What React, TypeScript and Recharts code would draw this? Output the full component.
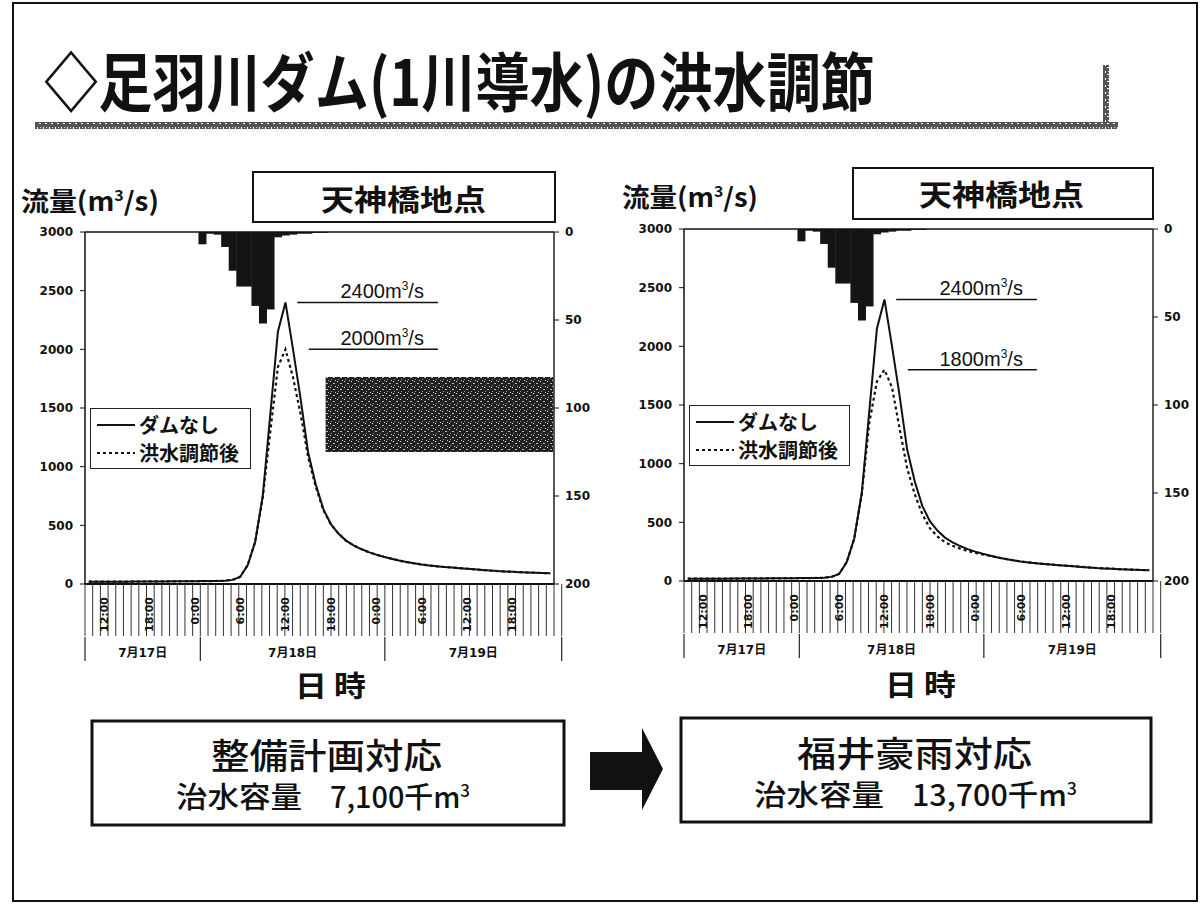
import React from 'react';
import {
  ComposedChart, Bar, Line, XAxis, YAxis, ReferenceLine, ReferenceArea, Legend,
} from 'recharts';

const CJK = '"Noto Sans CJK JP", "Noto Sans CJK SC", sans-serif';
const NUM = '"DejaVu Sans", "Noto Sans CJK JP", sans-serif';
const LATIN = '"Liberation Sans", Arial, sans-serif';

// hourly slots 7/17 10:00 – 7/19 23:00 (0:00 closes the previous day)
const days = ['7月17日', '7月18日', '7月19日'];
const dayFirstHour = [10, 1, 1];
const dayLastHour = [24, 24, 23];
const hourTickLabels: Record<number, string> = { 6: '6:00', 12: '12:00', 18: '18:00', 24: '0:00' };

const flowTicks = [0, 500, 1000, 1500, 2000, 2500, 3000];
const rainTicks = [0, 50, 100, 150, 200];

// 時間雨量 (mm)
const rainfall = [
  0, 0, 0, 0, 0, 0, 0, 0, 0, 0,
  0, 0, 0, 0, 0, 7, 1, 1.5, 8.5, 22,
  31, 31, 42, 52, 44, 3, 2, 1.5, 1, 1,
  0.5, 0.5, 0, 0, 0, 0, 0, 0, 0, 0,
  0, 0, 0, 0, 0, 0, 0, 0, 0, 0,
  0, 0, 0, 0, 0, 0, 0, 0, 0, 0,
  0, 0,
];

// 流量 m3/s — ダムなし
const flowNoDam = [
  20, 20, 20, 20, 20, 20, 21, 21, 22, 22,
  22, 23, 23, 24, 24, 25, 25, 26, 28, 35,
  60, 160, 360, 750, 1450, 2150, 2400, 2000, 1580, 1120,
  850, 640, 510, 430, 370, 330, 298, 272, 250, 232,
  216, 200, 187, 176, 166, 158, 151, 145, 140, 135,
  130, 125, 120, 115, 110, 107, 104, 101, 98, 95,
  93, 91,
];

// 洪水調節後 — 整備計画 (治水容量 7,100千m3)
const flowPlan = [
  20, 20, 20, 20, 20, 20, 21, 21, 22, 22,
  22, 23, 23, 24, 24, 25, 25, 26, 28, 35,
  60, 160, 360, 740, 1300, 1850, 2000, 1760, 1450, 1080,
  830, 630, 510, 430, 370, 330, 298, 272, 250, 232,
  216, 200, 187, 176, 166, 158, 151, 145, 140, 135,
  130, 125, 120, 115, 110, 107, 104, 101, 98, 95,
  93, 91,
];

// 洪水調節後 — 福井豪雨対応 (治水容量 13,700千m3)
const flowFukui = [
  20, 20, 20, 20, 20, 20, 21, 21, 22, 22,
  22, 23, 23, 24, 24, 25, 25, 26, 28, 35,
  60, 160, 360, 740, 1350, 1700, 1800, 1650, 1300, 960,
  740, 570, 450, 380, 330, 300, 276, 256, 240, 226,
  214, 200, 188, 177, 167, 159, 152, 146, 141, 136,
  131, 126, 121, 116, 111, 108, 105, 102, 99, 96,
  94, 92,
];

type Slot = { key: string; day: number; hour: number };
const slots: Slot[] = [];
days.forEach((d, di) => {
  for (let h = dayFirstHour[di]; h <= dayLastHour[di]; h++) {
    slots.push({ key: `${d} ${h}時`, day: di, hour: h });
  }
});
const hourLabelByKey = new Map(slots.map((s) => [s.key, hourTickLabels[s.hour] ?? '']));
const hourBounds = slots.map((_, i) => i).concat(slots.length);
const dayStarts = days.map((_, di) => slots.findIndex((s) => s.day === di));
const dayEnds = days.map((_, di) => (di + 1 < days.length ? dayStarts[di + 1] : slots.length));
const dayBounds = [...dayStarts, slots.length];
const dayCenters = dayStarts.map((s, di) => (s + dayEnds[di]) / 2);
const dayTicks = [...dayBounds, ...dayCenters];

// hour boundary marks, drawn from the axis line down through the time labels
const BoundTick = ({ x, y }: any) => (
  <line x1={x} x2={x} y1={y} y2={y + 52} stroke="#333" strokeWidth={1} />
);

const HourTick = ({ x, y, payload }: any) => {
  const text = hourLabelByKey.get(payload.value);
  if (!text) return <g />;
  const ty = y + 12;
  return (
    <text x={x} y={ty} transform={`rotate(-90 ${x} ${ty})`} textAnchor="end" dy="0.36em"
      fontSize={11} fontWeight="bold" fontFamily={NUM} fill="#111">{text}</text>
  );
};

const DayTick = ({ x, y, payload }: any) => {
  const ci = dayCenters.indexOf(payload.value);
  if (ci >= 0) {
    return (
      <text x={x} y={y + 20} textAnchor="middle" fontSize={12} fontWeight="bold"
        fontFamily={NUM} fill="#111">{days[ci]}</text>
    );
  }
  return <line x1={x} x2={x} y1={y} y2={y + 24} stroke="#222" strokeWidth={1.2} />;
};

const PeakLabel = ({ viewBox, peak }: any) => {
  const { x, y, width } = viewBox;
  return (
    <text x={x + width - 14} y={y - 4} textAnchor="end" fontSize={20} fontFamily={LATIN} fill="#111">
      {peak}m<tspan dy={-8} fontSize={12}>3</tspan><tspan dy={8}>/s</tspan>
    </text>
  );
};

const FlowLegend = ({ payload }: any) => (
  <div style={{
    width: 161, height: 61, border: '1.5px solid #222', background: '#fff',
    boxSizing: 'border-box', padding: '2px 0 0 6px',
  }}>
    {(payload || []).filter((e: any) => e.type !== 'none').map((e: any) => (
      <div key={e.value} style={{ display: 'flex', alignItems: 'center', height: 28 }}>
        <svg width={40} height={10}>
          <line x1={0} y1={5} x2={38} y2={5} stroke="#111" strokeWidth={2}
            strokeDasharray={e.payload?.strokeDasharray} />
        </svg>
        <span style={{ fontSize: 20, fontWeight: 700, fontFamily: CJK, color: '#111', marginLeft: 2, lineHeight: 1 }}>
          {e.value}
        </span>
      </div>
    ))}
  </div>
);

type PanelProps = { left: number; top: number; regulated: number[]; shaded?: boolean };

function FlowPanel({ left, top, regulated, shaded }: PanelProps) {
  const data = slots.map((s, i) => ({
    slot: s.key, rain: rainfall[i], noDam: flowNoDam[i], regulated: regulated[i],
  }));
  const peakNoDam = Math.max(...flowNoDam);
  const peakReg = Math.max(...regulated);
  return (
    <div style={{ position: 'absolute', left, top, width: 600, height: 510 }}>
      <ComposedChart width={600} height={510} data={data} barCategoryGap={0} barGap={0}
        margin={{ top: 62, right: 6, bottom: 13, left: 25 }}>
        {/* bottom axes stack in id order: bounds, hour labels, day groups */}
        <XAxis xAxisId="a-bound" type="number" domain={[0, slots.length]} ticks={hourBounds}
          interval={0} height={1} tickSize={0} tickMargin={0} tick={<BoundTick />} tickLine={false}
          axisLine={{ stroke: '#111', strokeWidth: 2 }} />
        <XAxis xAxisId="b-hour" dataKey="slot" interval={0} height={52} tickSize={0} tickMargin={0}
          axisLine={false} tickLine={false} tick={<HourTick />} />
        <XAxis xAxisId="c-day" type="number" domain={[0, slots.length]} ticks={dayTicks}
          interval={0} height={30} tickSize={0} tickMargin={0}
          axisLine={false} tickLine={false} tick={<DayTick />} />
        <YAxis yAxisId="flow" domain={[0, 3000]} ticks={flowTicks} width={60}
          tickSize={5} tickMargin={7} interval={0}
          axisLine={{ stroke: '#111', strokeWidth: 1.5 }} tickLine={{ stroke: '#111' }}
          tick={{ fontSize: 12, fontWeight: 'bold', fontFamily: NUM, fill: '#111' }} />
        <YAxis yAxisId="rain" orientation="right" reversed domain={[0, 200]} ticks={rainTicks}
          width={40} tickSize={5} tickMargin={6} interval={0}
          axisLine={{ stroke: '#222', strokeWidth: 1.5 }} tickLine={{ stroke: '#111' }}
          tick={{ fontSize: 12, fontWeight: 'bold', fontFamily: NUM, fill: '#111' }} />
        <ReferenceLine xAxisId="a-bound" yAxisId="flow" y={3000} stroke="#111" strokeWidth={1.5} />
        {shaded && (
          <ReferenceArea xAxisId="a-bound" yAxisId="flow" x1={31.3} x2={60.9} y1={1125} y2={1764}
            fill="url(#speckle)" fillOpacity={1} stroke="none" />
        )}
        <Bar xAxisId="b-hour" yAxisId="rain" dataKey="rain" fill="#141414" legendType="none"
          isAnimationActive={false} />
        <Line xAxisId="b-hour" yAxisId="flow" dataKey="noDam" name="ダムなし" type="linear"
          stroke="#111" strokeWidth={2} dot={false} isAnimationActive={false} />
        <Line xAxisId="b-hour" yAxisId="flow" dataKey="regulated" name="洪水調節後" type="linear"
          stroke="#111" strokeWidth={2.2} strokeDasharray="3 3" dot={false} isAnimationActive={false} />
        <ReferenceLine xAxisId="a-bound" yAxisId="flow" stroke="#111" strokeWidth={1.5}
          segment={[{ x: 27.6, y: peakNoDam }, { x: 45.9, y: peakNoDam }]}
          label={<PeakLabel peak={peakNoDam} />} />
        <ReferenceLine xAxisId="a-bound" yAxisId="flow" stroke="#111" strokeWidth={1.5}
          segment={[{ x: 29.1, y: peakReg }, { x: 45.9, y: peakReg }]}
          label={<PeakLabel peak={peakReg} />} />
        <Legend layout="vertical" align="center" verticalAlign="middle" content={<FlowLegend />}
          wrapperStyle={{ left: 90, top: 238, width: 161, height: 61 }} />
      </ComposedChart>
    </div>
  );
}

const T = ({ x, y, w, size, weight = 700, children, family = CJK }: any) => (
  <text x={x} y={y} textLength={w} lengthAdjust="spacingAndGlyphs" fontSize={size}
    fontWeight={weight} fontFamily={family} fill="#111">{children}</text>
);

export default function App() {
  return (
    <div style={{ position: 'absolute', left: 0, top: 0, width: 1202, height: 906, background: '#fff', overflow: 'hidden' }}>
      <svg width={0} height={0} style={{ position: 'absolute' }}>
        <defs>
          <pattern id="speckle" width={7} height={6} patternUnits="userSpaceOnUse">
            <rect width={7} height={6} fill="#202020" />
            <rect x={1} y={1} width={1} height={1} fill="#eee" />
            <rect x={4} y={3} width={2} height={1} fill="#bbb" />
            <rect x={2} y={5} width={1} height={1} fill="#999" />
            <rect x={6} y={0} width={1} height={1} fill="#ccc" />
          </pattern>
          <pattern id="hatch" width={6} height={7} patternUnits="userSpaceOnUse">
            <rect x={0} y={0} width={6} height={7} fill="#555" />
            <rect x={1} y={1} width={1} height={2} fill="#fff" />
            <rect x={3} y={4} width={2} height={1} fill="#fff" />
            <rect x={4} y={1} width={1} height={1} fill="#ddd" />
          </pattern>
        </defs>
      </svg>

      <FlowPanel left={0} top={170} regulated={flowPlan} shaded />
      <FlowPanel left={599} top={167} regulated={flowFukui} />

      <svg width={1202} height={906} style={{ position: 'absolute', left: 0, top: 0, pointerEvents: 'none' }}>
        {/* slide frame */}
        <rect x={13} y={3} width={1184} height={898} fill="none" stroke="#111" strokeWidth={2} />

        {/* title */}
        <T x={44} y={106} w={831} size={64}>◇足羽川ダム(1川導水)の洪水調節</T>
        <rect x={35} y={122} width={1083} height={7} fill="url(#hatch)" />
        <rect x={1103} y={65} width={6} height={64} fill="url(#hatch)" />

        {/* headers */}
        <T x={21} y={211} w={138} size={26}>
          流量(m<tspan dy={-10} fontSize={15}>3</tspan><tspan dy={10}>/s)</tspan>
        </T>
        <rect x={253} y={172} width={302} height={50} fill="none" stroke="#111" strokeWidth={2} />
        <T x={321} y={211} w={165} size={29}>天神橋地点</T>

        <T x={622} y={207} w={136} size={26}>
          流量(m<tspan dy={-10} fontSize={15}>3</tspan><tspan dy={10}>/s)</tspan>
        </T>
        <rect x={853} y={168} width={300} height={51} fill="none" stroke="#111" strokeWidth={2} />
        <T x={919} y={206} w={165} size={29}>天神橋地点</T>

        {/* axis titles */}
        <T x={295} y={697} w={71} size={29}>日 時</T>
        <T x={885} y={696} w={71} size={29}>日 時</T>

        {/* capacity boxes */}
        <rect x={92} y={721} width={472} height={104} fill="none" stroke="#111" strokeWidth={3} />
        <T x={211} y={769} w={231} size={35} weight={500}>整備計画対応</T>
        <T x={176} y={808} w={126} size={29} weight={500}>治水容量</T>
        <T x={330} y={808} w={140} size={29} weight={500}>
          7,100千m<tspan dy={-11} fontSize={17}>3</tspan>
        </T>

        <polygon points="590,752 642,752 642,728 663,769 642,810 642,790 590,790" fill="#111" />

        <rect x={681} y={718} width={470} height={104} fill="none" stroke="#111" strokeWidth={3} />
        <T x={797} y={767} w={235} size={35} weight={500}>福井豪雨対応</T>
        <T x={754} y={806} w={130} size={29} weight={500}>治水容量</T>
        <T x={912} y={806} w={165} size={29} weight={500}>
          13,700千m<tspan dy={-11} fontSize={17}>3</tspan>
        </T>
      </svg>
    </div>
  );
}
